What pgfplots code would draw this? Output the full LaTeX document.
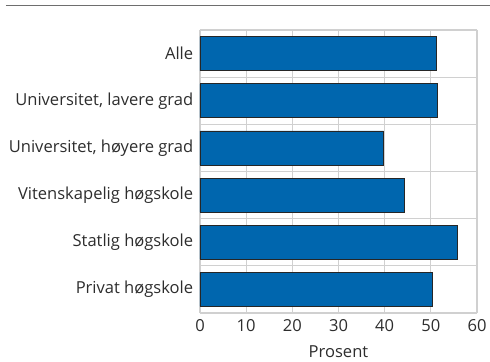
\documentclass[border=0pt]{standalone}
\usepackage{fontspec}
\setmainfont{Open Sans}
\usepackage{pgfplots}
\pgfplotsset{compat=1.18}
\definecolor{barblue}{RGB}{0,102,174}
\definecolor{gridgrey}{RGB}{208,208,208}
\definecolor{txt}{RGB}{45,45,45}
\definecolor{rule}{RGB}{110,110,110}
\begin{document}
\begin{tikzpicture}
\fontsize{17}{20}\selectfont
\useasboundingbox (-200bp,-49bp) rectangle (290bp,313bp);
\begin{axis}[
  scale only axis,
  width=277bp, height=283bp,
  xbar,
  bar width=0.72,
  xmin=0, xmax=60,
  ymin=-0.5, ymax=5.5,
  xtick={0,10,...,60},
  ytick={0,1,2,3,4,5},
  yticklabels={Privat høgskole, Statlig høgskole, Vitenskapelig høgskole,
               {Universitet, høyere grad}, {Universitet, lavere grad}, Alle},
  minor ytick={-0.5,0.5,...,5.5},
  xmajorgrids, yminorgrids,
  grid style={gridgrey, line width=1.3pt},
  minor grid style={gridgrey, line width=1.3pt},
  axis line style={draw=none},
  major tick length=2bp,
  xtick style={gridgrey, line width=1.3pt},
  ytick style={draw=none},
  minor tick length=0pt,
  tick label style={font=\fontsize{16.6}{19}\selectfont, text=txt},
  /pgf/number format/assume math mode=true,
  xticklabel style={yshift=-1bp},
  yticklabel style={xshift=1bp},
  xlabel={Prosent},
  xlabel style={font=\fontsize{16.6}{19}\selectfont, text=txt, yshift=-2.5bp},
]
\addplot[fill=barblue, draw=black!85, line width=0.6pt] coordinates {
  (50.3,0) (55.7,1) (44.3,2) (39.8,3) (51.3,4) (51.1,5)
};
\end{axis}
\draw[rule, line width=1.1pt] (-194bp,307.5bp) -- (290bp,307.5bp);
\end{tikzpicture}
\end{document}
